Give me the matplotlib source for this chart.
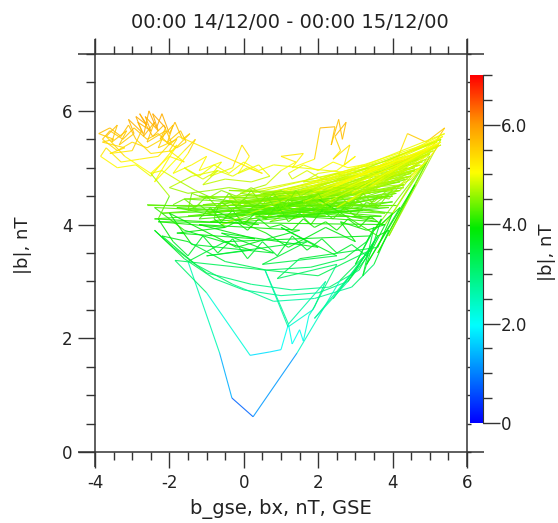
import numpy as np
import matplotlib
matplotlib.use("Agg")
import matplotlib.pyplot as plt
from matplotlib.collections import LineCollection
from matplotlib.colors import LinearSegmentedColormap, Normalize

# ---- data: b_gse bx (nT) and |b| (nT), one day of samples ----
bx = [
    -0.8, -1.3, -1.7, -2.2, -2.5, -2.0, -1.6, -2.0, -1.8, -2.3, -2.1, -2.6, -2.4, -2.7, -2.55, -2.35, -2.2, -2.0,
    -1.85, -1.65, -1.45, -1.9, -2.5, -2.9, -3.1, -3.3, -3.6, -3.9, -3.5, -3.8, -3.2, -3.6, -3.0, -2.75, -2.9, -2.6,
    -2.8, -2.45, -2.15, -1.95, -2.3, -2.8, -3.3, -3.7, -3.85, -3.4, -2.9, -2.5, -1.8, -2.4, -1.6, -1.3, -1.5, -1.9,
    -1.4, -1.0, -1.2, -0.6, -0.9, -0.3, -0.05, 0.15, -0.15, 0.4, 0.7, 0.2, -0.5, -1.1, -0.7, -1.4, -2.0, -1.5,
    -0.9, -0.4, 0.1, 0.6, 1.0, 1.4, 1.0, 1.6, 1.3, 1.9, 2.05, 2.45, 2.35, 2.55, 2.65, 2.75, 2.45, 2.6, 2.4, 2.85,
    2.7, 3.0, 2.5, 2.0, 1.6, 2.3, 2.9, 3.4, 3.1, 3.7, 3.3, 4.0, 4.4, 4.9, 5.4, 5.1, 4.7,
    0.3, 4.4, 0.0, 4.7, 0.6, 4.2, -0.4, 5.0, 0.9, 3.9, 0.2, 5.3, 1.2, 4.5, -0.7, 4.8, 0.5, 3.6, -0.2, 4.3, 1.0,
    5.1, 0.7, 4.0, -0.5, 4.6, 1.5, 5.4, 0.4, 3.8, -0.1, 4.9, 1.3, 4.1, 0.1, 5.2, 0.8, 3.5, -0.3, 4.4, 1.1, 4.7,
    0.0, 3.9, 0.6, 5.0, 1.6, 4.2, -0.6, 4.5, 0.9, 3.7, 0.3, 4.8, 1.4, 5.3, 0.5, 4.0, -0.2, 4.6, 1.2, 3.6, 0.2,
    4.3, 1.8, 5.1, 0.7, 4.1,
    -2.6, 1.0, -2.4, 0.4, -1.8, 2.2, -1.2, 3.0, -1.0, 2.6, -1.6, 2.4, -2.2, 1.7, -0.9, 3.2, -1.5, 2.8, -0.4, 3.4,
    -1.1, 2.0, -0.6,
    5.3, 3.9, 5.0, 3.6, 4.6, 3.3, 4.2, 3.5, 4.9, 3.8,
    -2.3, -0.5, -1.8, 0.3, -1.2, 1.5, -0.2, -2.0, -1.4, 0.8, -0.6, 2.0, 1.0, 2.5, 0.5, 1.7, -1.0, 0.2, -1.6,
    -2.4, -0.8, 0.6, 1.2, 2.2, 3.0, 2.6, 3.3,
    3.8, 3.4, 2.8, 2.0, 1.0, 0.0, -0.8, -1.6, -2.4,
    -1.9, -1.0, 0.2, 1.3, 2.3, 3.1, 3.6,
    3.9, 3.5, 2.9, 1.9, 0.8, -0.3, -1.3, -2.2,
    -1.5, -0.5, 0.6, 1.8, 2.7, 3.3, 3.7,
    3.2, 3.5, 3.0, 3.4,
    -0.5, -1.5, -0.65, -0.32, 0.25, 1.43, 2.59, 3.4, 2.0, -1.85, -1.0, 0.17, 0.7, 1.0, 1.2, 1.3, 1.5, 1.6, 1.75,
    1.9, 2.2, 1.2, 0.57, 1.19, 1.85, 2.5, 0.9, 1.5, 3.6, 4.0, 2.8,
    -1.2, -0.9, -0.6, -0.3, 0.0, 0.3, 0.6, 0.9, 1.2, 1.5, 1.8, 2.1, 2.4, 2.7, 3.0, 3.3, 3.6, 3.9, 4.2, 4.5,
    4.8, 4.5, 4.2, 3.9, 3.6, 3.3, 3.0, 2.7, 2.4, 2.1, 1.8, 1.5, 1.2, 0.9, 0.6, 0.3, 0.0, -0.3, -0.6, -0.9, -1.2, -1.5,
    -1.4, -1.0, -0.6, -0.2, 0.2, 0.6, 1.0, 1.4, 1.8, 2.2, 2.6, 3.0, 3.4, 3.8, 4.2, 4.6, 5.0,
    4.0, 3.7, 3.4, 3.1, 2.8, 2.5, 2.2, 1.9, 1.6, 1.3, 1.0, 0.7, 0.4, 0.1, -0.2, -0.5, -0.8,
    -0.7, -0.35, 0.0, 0.35, 0.7, 1.05, 1.4, 1.75, 2.1, 2.45, 2.8, 3.15, 3.5, 3.85, 4.2, 4.55, 4.9, 5.25,
    4.0, 3.6, 3.2, 2.8, 2.4, 2.0, 1.6, 1.2, 1.3, 1.7, 2.1, 2.5, 2.9, 3.3, 3.7,
    0.8, 0.4, 0.0, -0.4, -0.8, -1.2, -1.6, -1.5, -1.1, -0.7, -0.3, 0.1, 0.5,
    -1.75, -2.0, -2.3, -2.6, -2.95, -3.25, -3.6, -3.8, -3.4, -3.0, -2.6, -2.2, -1.8, -1.55, -1.7, -2.05, -1.9,
    -2.25, -2.1, -2.45, -2.3, -2.65, -2.5, -2.85, -2.7, -3.1, -2.95, -3.35, -3.15, -3.55, -3.4, -3.7,
    -3.2, -2.5, -2.0, -2.3,
    -1.9, -1.5, -1.1, -0.7, -0.3, 0.1, 0.5, 0.9, 1.3, 1.7, 2.1, 2.5, 2.9, 3.3,
    3.5, 2.9, 3.3, 2.4, 3.1, 1.9, 2.8, 3.6,
    2.0, 4.9, 2.5, 5.2, 1.8, 4.6, 2.8, 5.35, 2.2, 4.3, 3.0, 5.0, 1.6, 4.75, 2.6, 5.15, 2.1, 4.45, 2.9, 5.3, 2.4, 4.0,
    3.5, 3.2, 2.9, 2.6, 2.3, 2.0, 1.7, 1.4, 1.1, 0.8, 0.5, 0.2, -0.1, -0.4, -0.7, -1.0, -1.3, -1.6, -1.9,
]
b_total = [
    4.45, 4.6, 4.75, 4.95, 4.9, 5.2, 5.1, 5.3, 5.5, 5.35, 5.65, 5.45, 5.8, 5.55, 6.0, 5.7, 5.95, 5.6,
    5.8, 5.5, 5.6, 5.3, 5.25, 5.5, 5.75, 5.55, 5.7, 5.6, 5.5, 5.45, 5.35, 5.25, 5.3, 5.65, 5.9, 5.75,
    5.95, 5.55, 5.75, 5.45, 5.2, 5.15, 5.1, 5.35, 5.2, 5.0, 5.05, 4.85, 5.4, 4.75, 5.3, 5.5, 5.25, 4.9,
    5.05, 5.2, 4.95, 5.1, 4.85, 5.0, 5.4, 5.2, 4.9, 5.05, 4.85, 4.75, 4.8, 4.7, 4.95, 4.85, 4.65, 4.55,
    4.6, 4.65, 4.6, 4.7, 4.95, 5.1, 5.2, 5.25, 5.0, 5.15, 5.7, 5.72, 5.4, 5.85, 5.5, 5.8, 5.55, 5.3, 5.15, 5.4,
    5.05, 5.2, 4.95, 4.9, 4.75, 4.8, 4.9, 5.0, 4.85, 5.0, 4.75, 4.95, 5.6, 5.45, 5.7, 5.4, 5.2,
    4.5, 5.0, 4.35, 5.15, 4.25, 4.75, 4.45, 5.3, 4.15, 4.5, 4.4, 5.5, 4.3, 4.9, 4.3, 5.1, 4.55, 4.3, 4.2, 4.65, 4.45,
    5.35, 4.05, 4.4, 4.15, 4.95, 4.35, 5.6, 4.3, 4.2, 4.55, 5.2, 4.1, 4.55, 4.25, 5.45, 4.5, 4.1, 4.35, 4.8, 4.2, 5.05,
    4.05, 4.3, 4.4, 5.25, 4.25, 4.6, 4.4, 4.85, 4.3, 4.15, 4.15, 5.0, 4.45, 5.4, 4.1, 4.5, 4.3, 5.0, 4.35, 4.05, 4.2,
    4.7, 4.2, 5.3, 4.35, 4.35,
    4.35, 4.25, 4.1, 4.0, 4.3, 4.15, 4.5, 4.4, 4.2, 4.6, 4.45, 4.3, 4.2, 4.4, 4.05, 4.25, 4.15, 4.5, 4.6, 4.55,
    4.35, 4.5, 4.0,
    5.5, 3.8, 5.2, 3.5, 4.7, 3.3, 4.3, 3.9, 5.1, 4.0,
    4.05, 3.95, 3.85, 3.75, 4.0, 3.9, 3.6, 4.2, 3.65, 3.5, 3.85, 3.6, 3.95, 3.45, 3.3, 3.7, 3.45, 3.55, 3.9,
    4.3, 4.25, 3.85, 3.6, 3.95, 3.7, 4.05, 3.9,
    4.0, 3.5, 3.0, 2.8, 2.75, 2.85, 3.05, 3.4, 3.9,
    3.6, 3.15, 2.95, 2.85, 2.9, 3.2, 3.8,
    3.9, 3.3, 2.9, 2.7, 2.65, 2.95, 3.3, 3.8,
    3.7, 3.35, 3.2, 3.25, 3.4, 3.7, 4.1,
    3.1, 3.95, 3.3, 3.8,
    3.7, 3.35, 1.74, 0.95, 0.62, 1.74, 3.02, 3.55, 3.1, 3.37, 2.8, 1.70, 1.76, 1.8, 2.25, 1.9, 2.15, 1.95, 2.4,
    2.55, 3.0, 2.25, 3.2, 2.2, 2.5, 3.3, 3.05, 3.4, 3.6, 4.2, 4.3,
    4.1, 4.3, 4.05, 4.25, 4.0, 4.2, 4.1, 4.35, 4.05, 4.2, 4.0, 4.25, 4.1, 4.3, 4.15, 4.4, 4.3, 4.55, 4.6, 4.85,
    5.05, 4.8, 4.7, 4.45, 4.5, 4.3, 4.45, 4.25, 4.45, 4.3, 4.5, 4.3, 4.45, 4.25, 4.5, 4.3, 4.45, 4.25, 4.4, 4.2, 4.35, 4.25,
    4.55, 4.45, 4.6, 4.5, 4.65, 4.5, 4.6, 4.45, 4.6, 4.5, 4.65, 4.55, 4.7, 4.75, 4.9, 5.05, 5.25,
    4.2, 4.0, 4.15, 3.95, 4.1, 3.9, 4.05, 3.95, 4.1, 3.9, 4.0, 3.95, 4.1, 3.9, 4.05, 3.95, 4.1,
    4.3, 4.4, 4.2, 4.35, 4.25, 4.4, 4.2, 4.35, 4.2, 4.4, 4.3, 4.45, 4.4, 4.6, 4.7, 4.9, 5.1, 5.4,
    5.05, 4.95, 5.05, 5.0, 5.1, 4.95, 5.05, 4.9, 4.8, 4.95, 4.8, 4.9, 4.8, 4.95, 4.85,
    5.05, 4.95, 5.1, 4.9, 5.05, 4.85, 5.0, 4.95, 4.8, 4.95, 4.85, 5.0, 4.9,
    5.55, 5.4, 5.6, 5.5, 5.7, 5.5, 5.65, 5.5, 5.3, 5.45, 5.35, 5.5, 5.35, 5.45, 5.65, 5.45, 5.75,
    5.5, 5.7, 5.95, 5.65, 5.9, 5.65, 5.8, 5.6, 5.85, 5.6, 5.4, 5.65, 5.45, 5.75, 5.55,
    5.2, 4.9, 4.5, 4.1,
    3.7, 3.45, 3.8, 3.5, 3.75, 3.4, 3.7, 3.45, 3.8, 3.55, 3.75, 3.5, 3.65, 3.45,
    3.7, 3.1, 3.5, 2.7, 3.3, 2.35, 3.0, 3.8,
    4.45, 5.15, 4.3, 5.4, 4.55, 4.95, 4.4, 5.55, 4.6, 4.7, 4.5, 5.25, 4.4, 5.05, 4.6, 5.35, 4.35, 4.85, 4.55, 5.45,
    4.65, 4.6,
    4.35, 4.55, 4.3, 4.5, 4.25, 4.55, 4.35, 4.6, 4.3, 4.55, 4.35, 4.6, 4.35, 4.55, 4.3, 4.5, 4.3, 4.45, 4.35,
]

x_major = [-4, -2, 0, 2, 4, 6]
y_major = [0, 2, 4, 6]
cbar_ticks = [0, 2, 4, 6]
cbar_ticklabels = ["0", "2.0", "4.0", "6.0"]
title_text = "00:00 14/12/00 - 00:00 15/12/00"
xlabel_text = "b_gse, bx, nT, GSE"
ylabel_text = "|b|, nT"
cbar_label_text = "|b|, nT"

# ---- style ----
W, H = 558, 523
axis_col = "#333333"
text_col = "#222222"
fs = 12
cmap = LinearSegmentedColormap.from_list(
    "spedas_rainbow",
    [(0.0, (0.0, 0.0, 1.0)), (0.28, (0.0, 1.0, 1.0)), (0.56, (0.0, 0.92, 0.0)),
     (0.72, (1.0, 1.0, 0.0)), (0.86, (1.0, 0.6, 0.0)), (1.0, (1.0, 0.0, 0.0))])
norm = Normalize(0, 7)

fig = plt.figure(figsize=(W / 100, H / 100), dpi=100)
L, R, T, B = 95, 467, 54, 452
ax = fig.add_axes([L / W, 1 - B / H, (R - L) / W, (B - T) / H])

pts = np.column_stack([bx, b_total])
segs = np.stack([pts[:-1], pts[1:]], axis=1)
cvals = 0.5 * (np.asarray(b_total[:-1]) + np.asarray(b_total[1:]))
lc = LineCollection(segs, cmap=cmap, norm=norm, linewidths=0.8, alpha=0.88)
lc.set_array(cvals)
ax.add_collection(lc)
ax.set_xlim(-4, 6)
ax.set_ylim(0, 7)

for s in ax.spines.values():
    s.set_visible(False)
ex = 17 / (R - L)
ey = 15 / (B - T)
kw = dict(transform=ax.transAxes, color=axis_col, lw=1.1, clip_on=False, solid_capstyle="butt")
ax.plot([-ex, 1 + ex], [0, 0], **kw)
ax.plot([-ex, 1 + ex], [1, 1], **kw)
ax.plot([0, 0], [-ey, 1 + ey], **kw)
ax.plot([1, 1], [-ey, 1 + ey], **kw)

ax.set_xticks(x_major)
ax.set_xticks(np.arange(-4, 6.01, 0.5), minor=True)
ax.set_yticks(y_major)
ax.set_yticks(np.arange(0, 7.01, 0.5), minor=True)
ax.tick_params(axis="both", which="both", direction="out", color=axis_col, width=1.0,
               labelsize=fs, labelcolor=text_col)
ax.tick_params(axis="x", which="major", length=11.5, pad=4, top=True, labeltop=False)
ax.tick_params(axis="x", which="minor", length=6, top=True)
ax.tick_params(axis="y", which="major", length=12, pad=4, right=False)
ax.tick_params(axis="y", which="minor", length=6.5, right=False)
ax.set_xticklabels([str(v) for v in x_major])
ax.set_yticklabels([str(v) for v in y_major])

sec = ax.secondary_yaxis("right")
sec.set_yticks(np.arange(0, 7.01, 0.5))
sec.tick_params(axis="y", which="major", direction="out", length=3, width=1.0, color=axis_col,
                labelright=False)
sec.tick_params(axis="y", which="minor", length=0)
sec.spines["right"].set_visible(False)

# colorbar
cax = fig.add_axes([470 / W, 1 - 423 / H, 13 / W, (423 - 75) / H])
grad = np.linspace(0, 7, 512).reshape(-1, 1)
cax.imshow(grad, origin="lower", aspect="auto", extent=[0, 1, 0, 7], cmap=cmap, norm=norm)
cax.set_xlim(0, 1)
cax.set_ylim(0, 7)
cax.set_xticks([])
for k, s in cax.spines.items():
    s.set_visible(k == "right")
cax.spines["right"].set_color(axis_col)
cax.yaxis.tick_right()
cax.set_yticks(cbar_ticks)
cax.set_yticklabels(cbar_ticklabels)
cax.set_yticks(np.arange(0, 7.01, 0.5), minor=True)
cax.tick_params(axis="y", which="major", direction="out", length=12, width=1.0, color=axis_col,
                labelsize=fs, labelcolor=text_col, pad=1)
cax.tick_params(axis="y", which="minor", direction="out", length=6.5, width=1.0, color=axis_col)

fig.text(290 / W, 1 - 23 / H, title_text, ha="center", va="center", fontsize=14, color=text_col)
fig.text(281 / W, 1 - 509 / H, xlabel_text, ha="center", va="center", fontsize=14, color=text_col)
fig.text(23 / W, 1 - 245 / H, ylabel_text, ha="center", va="center", rotation=90, fontsize=13,
         color=text_col)
fig.text(547 / W, 1 - 252 / H, cbar_label_text, ha="center", va="center", rotation=90, fontsize=13,
         color=text_col)

fig.savefig("out.png", dpi=100, facecolor="white")
